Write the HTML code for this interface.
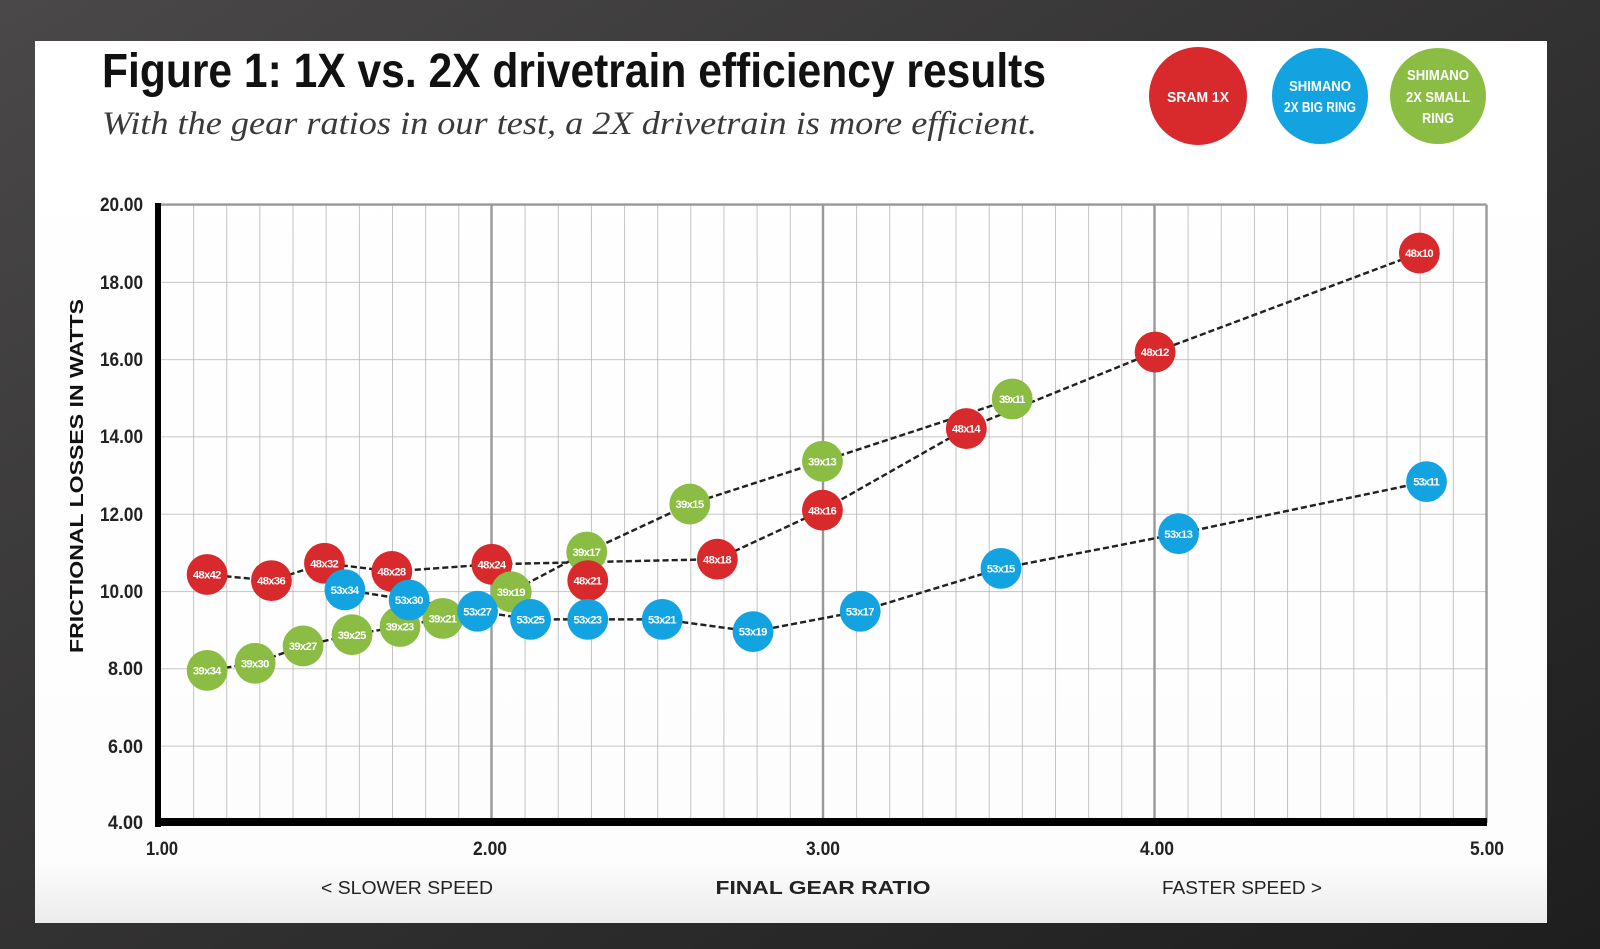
<!DOCTYPE html>
<html><head><meta charset="utf-8"><style>
html,body{margin:0;padding:0;background:#333;}
svg{display:block;}
</style></head><body>
<svg width="1600" height="949" viewBox="0 0 1600 949" xmlns="http://www.w3.org/2000/svg">
<defs>
<linearGradient id="bg" x1="0" y1="0" x2="1" y2="1">
<stop offset="0" stop-color="#4a4848"/><stop offset="0.5" stop-color="#333232"/><stop offset="1" stop-color="#1e1e1e"/>
</linearGradient>
<linearGradient id="pn" x1="0" y1="0" x2="0" y2="1">
<stop offset="0" stop-color="#fff"/><stop offset="0.93" stop-color="#fdfdfd"/><stop offset="1" stop-color="#ececec"/>
</linearGradient>
<pattern id="grid" x="160" y="204.6" width="33.15" height="77.3" patternUnits="userSpaceOnUse">
<line x1="0" y1="0" x2="0" y2="77.3" stroke="#b4b4b4" stroke-width="1.6"/>
<line x1="0" y1="0" x2="33.15" y2="0" stroke="#b4b4b4" stroke-width="1.6"/>
</pattern>
</defs>
<rect width="1600" height="949" fill="url(#bg)"/>
<rect x="35" y="41" width="1512" height="882" fill="url(#pn)"/>

<text x="102" y="87" font-family="Liberation Sans, sans-serif" font-weight="bold" font-size="48" fill="#111" textLength="944" lengthAdjust="spacingAndGlyphs">Figure 1: 1X vs. 2X drivetrain efficiency results</text>
<text x="102" y="134" font-family="Liberation Serif, serif" font-style="italic" font-size="33" fill="#3a3a3a" textLength="935" lengthAdjust="spacingAndGlyphs">With the gear ratios in our test, a 2X drivetrain is more efficient.</text>

<g font-family="Liberation Sans, sans-serif" font-weight="bold" fill="#fff" text-anchor="middle" font-size="15">
<circle cx="1198" cy="96" r="49" fill="#d8292c"/>
<text x="1198" y="102" textLength="62" lengthAdjust="spacingAndGlyphs">SRAM 1X</text>
<circle cx="1320" cy="96" r="48" fill="#14a3e1"/>
<text x="1320" y="91" textLength="62" lengthAdjust="spacingAndGlyphs">SHIMANO</text>
<text x="1320" y="112" textLength="72" lengthAdjust="spacingAndGlyphs">2X BIG RING</text>
<circle cx="1438" cy="96" r="48" fill="#8bbd45"/>
<text x="1438" y="80" textLength="62" lengthAdjust="spacingAndGlyphs">SHIMANO</text>
<text x="1438" y="102" textLength="64" lengthAdjust="spacingAndGlyphs">2X SMALL</text>
<text x="1438" y="123" textLength="32" lengthAdjust="spacingAndGlyphs">RING</text>
</g>

<rect x="160" y="204.6" width="1326" height="618.4" fill="url(#grid)"/>
<line x1="491.5" y1="204.6" x2="491.5" y2="823" stroke="#999" stroke-width="2.4"/>
<line x1="823" y1="204.6" x2="823" y2="823" stroke="#999" stroke-width="2.4"/>
<line x1="1154.5" y1="204.6" x2="1154.5" y2="823" stroke="#999" stroke-width="2.4"/>
<line x1="1486.5" y1="204.6" x2="1486.5" y2="823" stroke="#999" stroke-width="2.4"/>
<line x1="155" y1="204.6" x2="1486.5" y2="204.6" stroke="#999" stroke-width="2.4"/>
<rect x="155" y="203" width="6" height="624" fill="#000"/>
<rect x="155" y="818" width="1332" height="8" fill="#000"/>

<g font-family="Liberation Sans, sans-serif" font-weight="bold" font-size="19" fill="#222" text-anchor="end">
<text x="143" y="211" textLength="43" lengthAdjust="spacingAndGlyphs">20.00</text>
<text x="143" y="289" textLength="43" lengthAdjust="spacingAndGlyphs">18.00</text>
<text x="143" y="366" textLength="43" lengthAdjust="spacingAndGlyphs">16.00</text>
<text x="143" y="443" textLength="43" lengthAdjust="spacingAndGlyphs">14.00</text>
<text x="143" y="521" textLength="43" lengthAdjust="spacingAndGlyphs">12.00</text>
<text x="143" y="598" textLength="43" lengthAdjust="spacingAndGlyphs">10.00</text>
<text x="143" y="675" textLength="35" lengthAdjust="spacingAndGlyphs">8.00</text>
<text x="143" y="753" textLength="35" lengthAdjust="spacingAndGlyphs">6.00</text>
<text x="143" y="829" textLength="35" lengthAdjust="spacingAndGlyphs">4.00</text>
</g>
<g font-family="Liberation Sans, sans-serif" font-weight="bold" font-size="19" fill="#222" text-anchor="middle">
<text x="162" y="855" textLength="32" lengthAdjust="spacingAndGlyphs">1.00</text>
<text x="490" y="855" textLength="34" lengthAdjust="spacingAndGlyphs">2.00</text>
<text x="823" y="855" textLength="34" lengthAdjust="spacingAndGlyphs">3.00</text>
<text x="1157" y="855" textLength="34" lengthAdjust="spacingAndGlyphs">4.00</text>
<text x="1487" y="855" textLength="34" lengthAdjust="spacingAndGlyphs">5.00</text>
</g>
<g font-family="Liberation Sans, sans-serif" font-size="18" fill="#222" text-anchor="middle">
<text x="407" y="894" textLength="172" lengthAdjust="spacingAndGlyphs">&lt; SLOWER SPEED</text>
<text x="823" y="894" font-weight="bold" textLength="215" lengthAdjust="spacingAndGlyphs">FINAL GEAR RATIO</text>
<text x="1242" y="894" textLength="160" lengthAdjust="spacingAndGlyphs">FASTER SPEED &gt;</text>
</g>
<text transform="translate(83,476) rotate(-90)" font-family="Liberation Sans, sans-serif" font-weight="bold" font-size="18" fill="#111" text-anchor="middle" textLength="354" lengthAdjust="spacingAndGlyphs">FRICTIONAL LOSSES IN WATTS</text>

<g transform="scale(1.0204)">
<g fill="none" stroke="#222" stroke-width="2.4" stroke-dasharray="6 3">
<polyline points="203,563 266,569 318,552 384,560 482,553 703,548 806,500 947,420 1132,345 1391,248"/>
<polyline points="203,657 250,650 297,633 345,622 392,614 434,606 501,580 575,541 676,494 806,452 992,391"/>
<polyline points="338,578 401,588 468,599 520,607 576,607 649,607 738,619 843,599 981,557 1155,523 1398,472"/>
</g>
<g font-family="Liberation Sans, sans-serif" font-weight="bold" font-size="11" fill="#fff" text-anchor="middle">
<g fill="#d8292c"><circle cx="203" cy="563" r="20"/><circle cx="266" cy="569" r="20"/><circle cx="318" cy="552" r="20"/><circle cx="384" cy="560" r="20"/><circle cx="482" cy="553" r="20"/></g>
<g fill="#8bbd45"><circle cx="203" cy="657" r="20"/><circle cx="250" cy="650" r="20"/><circle cx="297" cy="633" r="20"/><circle cx="345" cy="622" r="20"/><circle cx="392" cy="614" r="20"/><circle cx="434" cy="606" r="20"/><circle cx="501" cy="580" r="20"/><circle cx="575" cy="541" r="20"/><circle cx="676" cy="494" r="20"/><circle cx="806" cy="452" r="20"/><circle cx="992" cy="391" r="20"/></g>
<g fill="#d8292c"><circle cx="576" cy="569" r="20"/><circle cx="703" cy="548" r="20"/><circle cx="806" cy="500" r="20"/><circle cx="947" cy="420" r="20"/><circle cx="1132" cy="345" r="20"/><circle cx="1391" cy="248" r="20"/></g>
<g fill="#14a3e1"><circle cx="338" cy="578" r="20"/><circle cx="401" cy="588" r="20"/><circle cx="468" cy="599" r="20"/><circle cx="520" cy="607" r="20"/><circle cx="576" cy="607" r="20"/><circle cx="649" cy="607" r="20"/><circle cx="738" cy="619" r="20"/><circle cx="843" cy="599" r="20"/><circle cx="981" cy="557" r="20"/><circle cx="1155" cy="523" r="20"/><circle cx="1398" cy="472" r="20"/></g>
<g textLength="28" lengthAdjust="spacingAndGlyphs">
<text x="203" y="567" textLength="28">48x42</text><text x="266" y="573" textLength="28">48x36</text><text x="318" y="556" textLength="28">48x32</text><text x="384" y="564" textLength="28">48x28</text><text x="482" y="557" textLength="28">48x24</text>
<text x="203" y="661" textLength="28">39x34</text><text x="250" y="654" textLength="28">39x30</text><text x="297" y="637" textLength="28">39x27</text><text x="345" y="626" textLength="28">39x25</text><text x="392" y="618" textLength="28">39x23</text><text x="434" y="610" textLength="28">39x21</text><text x="501" y="584" textLength="28">39x19</text><text x="575" y="545" textLength="28">39x17</text><text x="676" y="498" textLength="28">39x15</text><text x="806" y="456" textLength="28">39x13</text><text x="992" y="395" textLength="26">39x11</text>
<text x="576" y="573" textLength="28">48x21</text><text x="703" y="552" textLength="28">48x18</text><text x="806" y="504" textLength="28">48x16</text><text x="947" y="424" textLength="28">48x14</text><text x="1132" y="349" textLength="28">48x12</text><text x="1391" y="252" textLength="28">48x10</text>
<text x="338" y="582" textLength="28">53x34</text><text x="401" y="592" textLength="28">53x30</text><text x="468" y="603" textLength="28">53x27</text><text x="520" y="611" textLength="28">53x25</text><text x="576" y="611" textLength="28">53x23</text><text x="649" y="611" textLength="28">53x21</text><text x="738" y="623" textLength="28">53x19</text><text x="843" y="603" textLength="28">53x17</text><text x="981" y="561" textLength="28">53x15</text><text x="1155" y="527" textLength="28">53x13</text><text x="1398" y="476" textLength="26">53x11</text>
</g>
</g>
</g>
</svg>
</body></html>
